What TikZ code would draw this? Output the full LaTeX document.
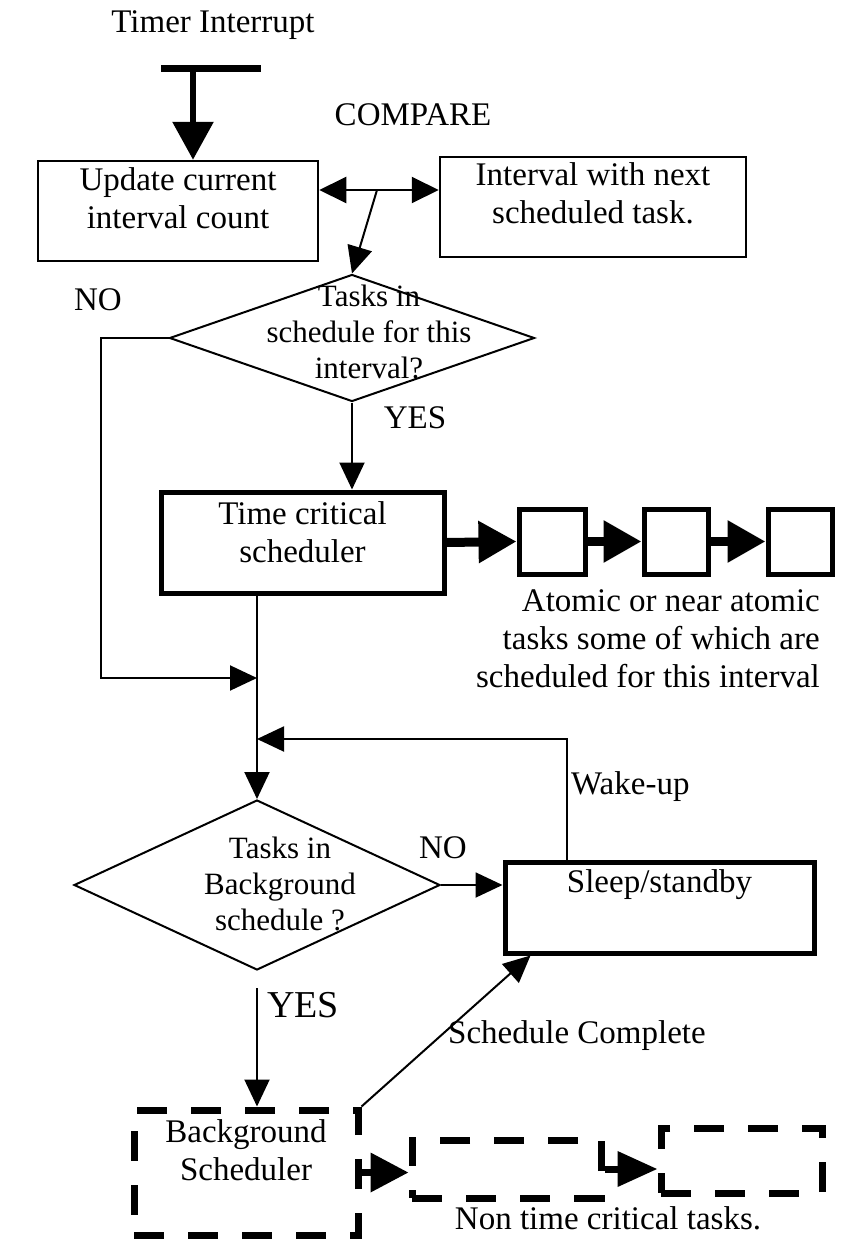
\documentclass[tikz,border=0pt]{standalone}
\usepackage{fontspec}
\setmainfont{Liberation Serif}
\usetikzlibrary{shapes.geometric,arrows.meta}
\tikzset{
 txt/.style={font=\fontsize{33}{38}\selectfont, align=center, inner sep=0pt},
 dtxt/.style={font=\fontsize{31}{36}\selectfont, align=center, inner sep=0pt},
 thinbox/.style={draw, line width=2.5pt, inner sep=0pt},
 thickbox/.style={draw, line width=5pt, inner sep=0pt},
 dashbox/.style={draw, line width=7pt, dash pattern=on 30pt off 24pt, inner sep=0pt},
 dec/.style={draw, diamond, line width=2pt, inner sep=0pt},
 conn/.style={line width=2pt},
 arr/.style={conn, -{Triangle[length=27pt,width=25pt]}},
 bigarr/.style={line width=9pt, -{Triangle[length=38pt,width=40pt]}},
}
\begin{document}
\begin{tikzpicture}[x=1pt,y=-1pt]
\useasboundingbox (0,0) rectangle (850,1256);
\fill[white] (0,0) rectangle (850,1256);

% top
\node[txt] (timer) at (213,25) {Timer Interrupt};
\coordinate (barL) at (161,68);
\coordinate (barR) at (261,68);
\coordinate (barM) at (193,68);
\draw[line width=7pt] (barL) -- (barR);
\node[thinbox, minimum width=280pt, minimum height=100pt,
  label={[txt,yshift=13pt]center:Update current\\interval count}] (upd) at (178,211) {};
\draw[line width=6pt, -{Triangle[length=38pt,width=40pt]}] (barM) -- (barM |- upd.north);

\node[txt] (cmp) at (413,115) {COMPARE};
\node[thinbox, minimum width=306pt, minimum height=100pt,
  label={[txt,yshift=14pt]center:Interval with next\\scheduled task.}] (intv) at (593,207) {};
\coordinate (cmpy) at (0,190);
\draw[conn, {Triangle[length=27pt,width=26pt]}-{Triangle[length=27pt,width=26pt]}] (upd.east |- cmpy) -- (intv.west |- cmpy);

\coordinate (junc) at (377,190);
\node[dec, minimum width=365pt, minimum height=127pt] (d1) at (352,338) {};
\draw[arr] (junc) -- (d1.north);
\node[dtxt] (d1t) at (369,332) {Tasks in\\schedule for this\\interval?};

% NO branch
\node[txt] (no1) at (98,300) {NO};
\coordinate (nox) at (101,0);
\coordinate (merge1) at (257,678);
\draw[arr] (d1.west) -- (nox |- d1.west) -- (nox |- merge1) -- (merge1);

% YES branch
\node[txt] (yes1) at (415,418) {YES};
\node[thickbox, minimum width=283pt, minimum height=101pt,
  label={[txt,yshift=10pt]center:Time critical\\scheduler}] (tcs) at (302.5,542.5) {};
\draw[arr] (d1.south) -- (d1.south |- tcs.north);

% atomic tasks
\node[thickbox, minimum width=66pt, minimum height=65pt] (a1) at (552,541.5) {};
\node[thickbox, minimum width=64pt, minimum height=65pt] (a2) at (676,541.5) {};
\node[thickbox, minimum width=64pt, minimum height=65pt] (a3) at (800,541.5) {};
\draw[bigarr] (tcs.east) -- (a1.west);
\draw[bigarr] (a1.east) -- (a2.west);
\draw[bigarr] (a2.east) -- (a3.west);
\node[txt, align=right, anchor=east] (atomic) at (820,639) {Atomic or near atomic\\tasks some of which are\\scheduled for this interval};

% background decision
\coordinate (merge2) at (257,739);
\node[dec, minimum width=366pt, minimum height=170pt] (d2) at (257,885) {};
\draw[arr] (d2.north |- tcs.south) -- (d2.north);
\node[dtxt] (d2t) at (280,884) {Tasks in\\Background\\schedule ?};

\node[thickbox, minimum width=309pt, minimum height=91pt,
  label={[txt,yshift=23pt]center:Sleep/standby}] (sleep) at (659.5,907.5) {};
\node[txt] (no2) at (443,848) {NO};
\draw[arr] (d2.east) -- (d2.east -| sleep.west);

\coordinate (wk) at (567,739);
\draw[arr] (wk |- sleep.north) -- (wk) -- (merge2);
\node[txt, anchor=west] (wake) at (571,787) {Wake-up};

% background scheduler
\node[dashbox, minimum width=224pt, minimum height=125pt,
  label={[txt,yshift=22pt]center:Background\\Scheduler}] (bg) at (246,1172.5) {};
\draw[arr] ([yshift=-17pt]d2.south) -- (d2.south |- bg.north);
\node[txt, font=\fontsize{38}{44}\selectfont] (yes2) at (303,1005) {YES};

\draw[arr] (bg.north east) -- ([xshift=28pt]sleep.south west);
\node[txt, anchor=west] (sc) at (448,1036) {Schedule Complete};

\node[dashbox, minimum width=189pt, minimum height=58pt] (nt1) at (506.5,1169) {};
\node[dashbox, minimum width=161pt, minimum height=65pt] (nt2) at (741.5,1160.5) {};
\draw[line width=7pt, -{Triangle[length=38pt,width=38pt]}] (bg.east) -- (bg.east -| nt1.west);
\draw[line width=7pt, -{Triangle[length=40pt,width=34pt]}] (nt1.east) -- (nt1.east -| nt2.west);
\node[txt] (ntc) at (608,1218) {Non time critical tasks.};
\end{tikzpicture}
\end{document}
